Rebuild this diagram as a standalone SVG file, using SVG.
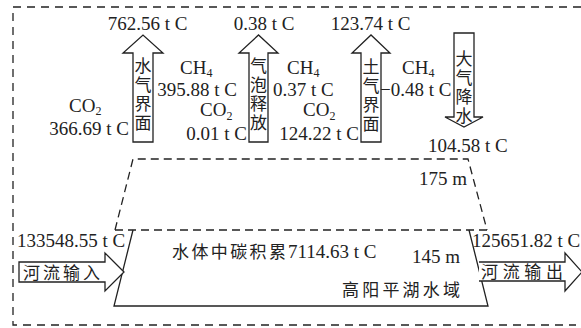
<svg xmlns="http://www.w3.org/2000/svg" width="581" height="328" viewBox="0 0 581 328">
<style>
.t{font-family:"Liberation Serif","Times New Roman",serif;font-size:19px;fill:#222}
.c{font-family:"Noto Sans CJK SC",sans-serif;font-size:17px;fill:#222}
.v{font-family:"Noto Sans CJK SC",sans-serif;font-size:17px;fill:#222;writing-mode:vertical-rl;letter-spacing:2px}
.s{font-size:12px}
.ar{fill:#fff;stroke:#222;stroke-width:1.3}
.dash{fill:none;stroke:#222;stroke-width:1.3;stroke-dasharray:8 5}
.solid{fill:none;stroke:#222;stroke-width:1.3}
</style>
<rect width="581" height="328" fill="#fff"/>
<g id="frame">
<path class="dash" d="M581,7 H13 V325 H576" style="stroke-dasharray:8 6"/>
</g>
<g id="lake">
<path class="dash" d="M115,230 L133,159 H468 L487,230"/>
<path class="dash" d="M115,230 H487"/>
<path class="solid" d="M133,230 L114,306 H488 L469,230"/>
<text class="t" x="419" y="185">175 m</text>
<text class="t" x="412" y="263">145 m</text>
<text class="c" x="172" y="258" textLength="114">水体中碳积累</text>
<text class="t" x="288" y="258">7114.63 t C</text>
<text class="c" x="342" y="296" textLength="118">高阳平湖水域</text>
</g>
<g id="connectors">
<g id="inflow">
<path class="ar" d="M19,262 H105 V253 L124,272 L105,291 V282 H19 Z"/>
<text class="c" x="23" y="279" textLength="77">河流输入</text>
<text class="t" x="17" y="247">133548.55 t C</text>
</g>
<g id="outflow">
<path class="ar" d="M479,262 H565 V253 L582,272 L565,291 V281 H479"/>
<text class="c" x="481" y="278" textLength="82">河流输出</text>
<text class="t" x="472" y="247">125651.82 t C</text>
</g>
<g id="water-air">
<path class="ar" d="M133,142 V53 H123 L143,35 L163,53 H153 V142 Z"/>
<text class="v" x="143" y="57">水气界面</text>
<text class="t" x="147.5" y="30" text-anchor="middle">762.56 t C</text>
<text class="t" x="69" y="112">CO<tspan class="s" dy="3">2</tspan></text>
<text class="t" x="129" y="135" text-anchor="end">366.69 t C</text>
<text class="t" x="180" y="74">CH<tspan class="s" dy="3">4</tspan></text>
<text class="t" x="237" y="96" text-anchor="end">395.88 t C</text>
</g>
<g id="bubble">
<path class="ar" d="M249,142 V53 H239 L258.5,35 L278,53 H268 V142 Z"/>
<text class="v" x="258.5" y="57">气泡释放</text>
<text class="t" x="264" y="30" text-anchor="middle">0.38 t C</text>
<text class="t" x="200" y="116">CO<tspan class="s" dy="4">2</tspan></text>
<text class="t" x="247" y="140" text-anchor="end">0.01 t C</text>
<text class="t" x="287" y="74">CH<tspan class="s" dy="3">4</tspan></text>
<text class="t" x="273" y="96">0.37 t C</text>
</g>
<g id="soil-air">
<path class="ar" d="M361,142 V53 H352 L371,35 L390,53 H381 V142 Z"/>
<text class="v" x="371" y="58">土气界面</text>
<text class="t" x="370.5" y="30" text-anchor="middle">123.74 t C</text>
<text class="t" x="303" y="116">CO<tspan class="s" dy="4">2</tspan></text>
<text class="t" x="359" y="140" text-anchor="end">124.22 t C</text>
<text class="t" x="402" y="74">CH<tspan class="s" dy="3">4</tspan></text>
<text class="t" x="380" y="96">−0.48 t C</text>
</g>
<g id="rain">
<path class="ar" d="M454,33 V117 H445 L464,127 L483,117 H474 V33 Z"/>
<text class="v" x="464" y="50">大气降水</text>
<text class="t" x="428" y="152">104.58 t C</text>
</g>
</g>
</svg>
